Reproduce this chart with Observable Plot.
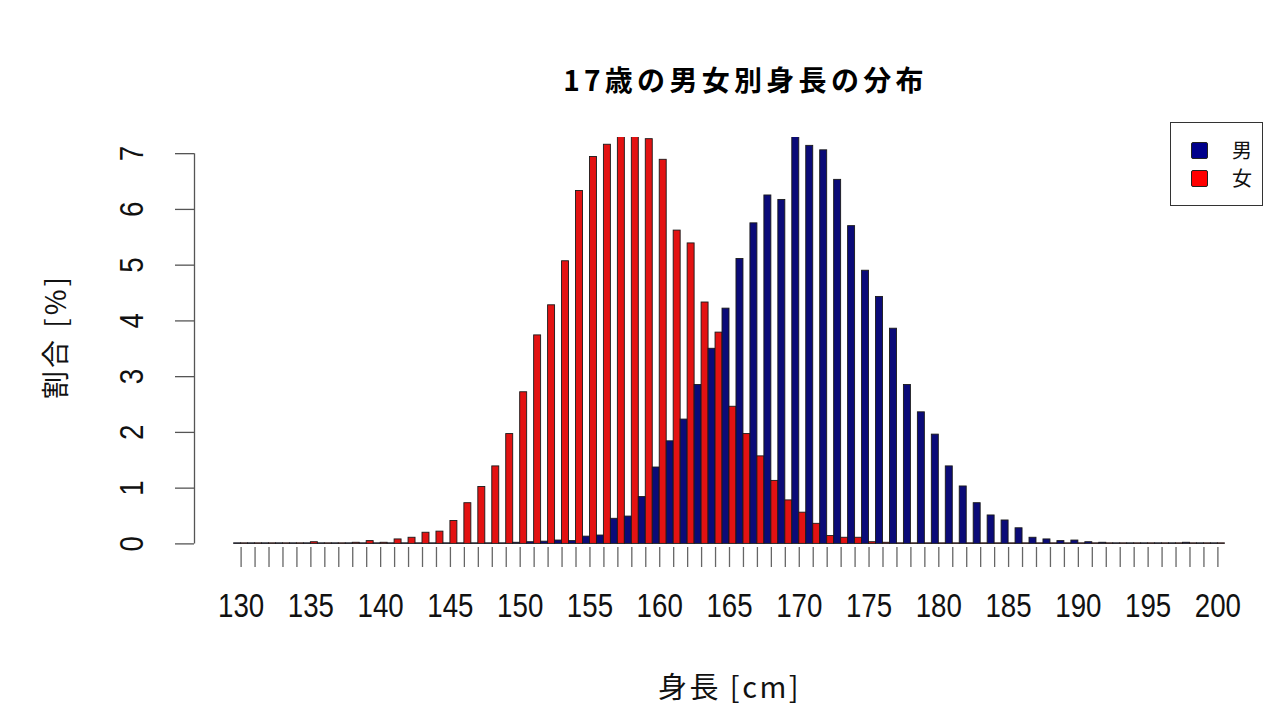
<!DOCTYPE html>
<html>
<head>
<meta charset="utf-8">
<script src="https://cdn.jsdelivr.net/npm/d3@7"></script>
<script src="https://cdn.jsdelivr.net/npm/@observablehq/plot@0.6"></script>
<style>
  body { margin: 0; background: #fff; }
  #wrap { position: relative; width: 1280px; height: 720px; overflow: hidden; }
  #legend { position: absolute; left: 1170px; top: 122px; width: 93px; height: 84px;
            border: 1px solid #333; box-sizing: border-box; background: #fff;
            font-family: "Noto Sans CJK JP", sans-serif; font-size: 20px; color: #111; }
  .item { position: absolute; left: 0; width: 100%; height: 20px; }
  .sw { position: absolute; left: 20px; top: 1px; width: 17px; height: 17px; border: 1px solid #222; box-sizing: border-box; border-radius: 2px; }
  .lb { position: absolute; left: 61px; top: -4px; line-height: 26px; }
</style>
</head>
<body>
<div id="wrap"></div>
<script>
// ---- data ----
const heights = [130,131,132,133,134,135,136,137,138,139,
                 140,141,142,143,144,145,146,147,148,149,
                 150,151,152,153,154,155,156,157,158,159,
                 160,161,162,163,164,165,166,167,168,169,
                 170,171,172,173,174,175,176,177,178,179,
                 180,181,182,183,184,185,186,187,188,189,
                 190,191,192,193,194,195,196,197,198,199,200];
const male = [0.01,0.01,0.01,0.01,0.01,0.01,0.01,0.01,0.01,0.01,
              0.01,0.01,0.01,0.01,0.01,0.01,0.01,0.01,0.01,0.01,
              0.02,0.03,0.04,0.06,0.05,0.13,0.15,0.45,0.49,0.84,
              1.37,1.84,2.23,2.85,3.50,4.22,5.11,5.75,6.25,6.17,
              7.35,7.14,7.06,6.53,5.70,4.90,4.43,3.86,2.85,2.36,
              1.96,1.39,1.03,0.73,0.51,0.42,0.28,0.11,0.08,0.05,
              0.06,0.03,0.02,0.01,0.01,0.01,0.01,0.01,0.02,0.01,0.01];
const female = [0.01,0.01,0.01,0.01,0.01,0.03,0.01,0.01,0.02,0.05,
                0.02,0.08,0.11,0.20,0.22,0.41,0.73,1.02,1.39,1.97,
                2.72,3.74,4.28,5.07,6.33,6.94,7.16,7.38,7.36,7.26,
                6.89,5.62,5.39,4.33,3.79,2.46,1.97,1.57,1.13,0.78,
                0.56,0.36,0.14,0.11,0.11,0.03,0.02,0.01,0.01,0.01,
                0.01,0.01,0.01,0.01,0.01,0.01,0.01,0.01,0.01,0.01,
                0.01,0.01,0.01,0.01,0.01,0.01,0.01,0.01,0.01,0.01,0.01];
const sexes = ["男", "女"];
const colors = ["#0b0b78", "#e31212"];
const xLabels = [130,135,140,145,150,155,160,165,170,175,180,185,190,195,200];
const yTicks = [0,1,2,3,4,5,6,7];
const titleText = "17歳の男女別身長の分布";
const xTitle = "身長 [cm]";
const yTitle = "割合 [%]";

// ---- table ----
const rows = [];
heights.forEach((h, i) => {
  rows.push({h, sex: sexes[0], v: male[i]});
  rows.push({h, sex: sexes[1], v: female[i]});
});

const xDomain = [126.66, 203.34];
const yDomain = [-0.28, 7.29];
const numFont = "'Liberation Sans', 'Noto Sans CJK JP', sans-serif";
const jpFont = "'Noto Sans CJK JP', sans-serif";

const chart = Plot.plot({
  width: 1280,
  height: 720,
  marginLeft: 194,
  marginRight: 16,
  marginTop: 137,
  marginBottom: 161,
  x: {domain: xDomain, axis: null, label: null},
  y: {domain: yDomain, axis: null, label: null},
  color: {domain: sexes, range: colors},
  style: {fontFamily: jpFont, background: "white", color: "#111"},
  marks: [
    Plot.rectY(rows, {
      x1: d => d.sex === sexes[0] ? d.h - 0.5 : d.h,
      x2: d => d.sex === sexes[0] ? d.h : d.h + 0.5,
      y1: 0, y2: "v",
      fill: "sex", stroke: "#1a1a1a", strokeWidth: 0.9,
      clip: true
    }),
    Plot.ruleX([xDomain[0]], {y1: yTicks[0], y2: yTicks[yTicks.length - 1], stroke: "#555", strokeWidth: 1.3}),
    Plot.axisY(yTicks, {anchor: "left", tickSize: 19, tickFormat: () => "", label: null, stroke: "#555", strokeWidth: 1.3}),
    Plot.text(yTicks, {y: d => d, frameAnchor: "left", dx: -62, rotate: -90, text: d => String(d),
      fontSize: 33, fontFamily: numFont, lineAnchor: "middle", textAnchor: "middle", fill: "#111"}),
    Plot.axisX(heights, {anchor: "bottom", tickSize: 20, tickFormat: () => "", label: null, dy: -12, stroke: "#666", strokeWidth: 1.3}),
    Plot.text(xLabels, {x: d => d, frameAnchor: "bottom", dy: 46.6, text: d => String(d),
      fontSize: 33, fontFamily: numFont, lineAnchor: "middle", textAnchor: "middle", fill: "#111"}),
    Plot.text([titleText], {frameAnchor: "top", dx: 16, dy: -55, text: d => d, fontSize: 28,
      fontWeight: "bold", lineAnchor: "middle", textAnchor: "middle", fill: "#000"}),
    Plot.text([yTitle], {frameAnchor: "left", dx: -137, dy: -12, rotate: -90, text: d => d, fontSize: 28,
      lineAnchor: "middle", textAnchor: "middle", fill: "#111"}),
    Plot.text([xTitle], {frameAnchor: "bottom", dx: 0, dy: 129, text: d => d, fontSize: 29,
      lineAnchor: "middle", textAnchor: "middle", fill: "#111"})
  ]
});

// post-style text by content
const allText = Array.from(chart.querySelectorAll("text"));
function byContent(set) {
  return allText.filter(t => set.includes(t.textContent.trim()));
}
function squeeze(nodes, k) {
  nodes.forEach(t => {
    const tr = t.getAttribute("transform");
    if (tr) {
      t.setAttribute("transform", tr + ` scale(${k},1)`);
    } else {
      const x = +t.getAttribute("x") || 0, y = +t.getAttribute("y") || 0;
      t.removeAttribute("x"); t.removeAttribute("y");
      t.setAttribute("transform", `translate(${x},${y}) scale(${k},1)`);
    }
  });
}
squeeze(byContent(xLabels.map(String).concat(yTicks.map(String))), 0.84);
byContent([titleText]).forEach(t => t.style.letterSpacing = "4.3px");
byContent([yTitle]).forEach(t => t.style.letterSpacing = "3px");
byContent([xTitle]).forEach(t => t.style.letterSpacing = "2.5px");

const wrap = document.getElementById("wrap");
wrap.appendChild(chart);

// legend
const legend = document.createElement("div");
legend.id = "legend";
sexes.forEach((s, i) => {
  const it = document.createElement("div");
  it.className = "item";
  it.style.top = (18 + i * 28) + "px";
  const sw = document.createElement("div");
  sw.className = "sw";
  sw.style.background = i === 0 ? "#00008b" : "#ff0000";
  const lb = document.createElement("div");
  lb.className = "lb";
  lb.textContent = s;
  it.appendChild(sw); it.appendChild(lb);
  legend.appendChild(it);
});
wrap.appendChild(legend);
</script>
</body>
</html>
